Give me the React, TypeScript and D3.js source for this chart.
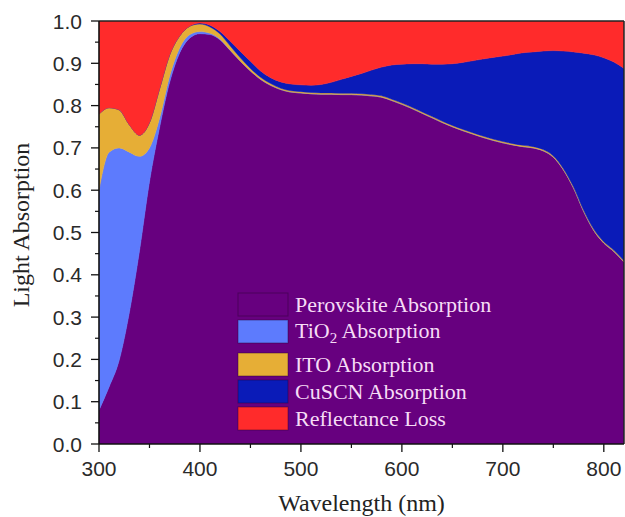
import React from 'react';
import * as d3 from 'd3';

const wavelength = [300,310,320,330,340,350,360,370,380,390,400,410,420,430,440,450,460,470,480,490,500,510,520,530,540,550,560,570,580,590,600,610,620,630,640,650,660,670,680,690,700,710,720,730,740,750,760,770,780,790,800,810,820];

const perovskite = [0.08,0.135,0.198,0.31,0.455,0.62,0.748,0.855,0.925,0.96,0.97,0.968,0.955,0.93,0.905,0.882,0.862,0.848,0.838,0.832,0.83,0.828,0.827,0.827,0.826,0.826,0.825,0.823,0.82,0.812,0.803,0.793,0.782,0.771,0.76,0.75,0.741,0.733,0.725,0.718,0.712,0.707,0.703,0.70,0.693,0.678,0.648,0.605,0.55,0.505,0.475,0.455,0.43];

const tio2 = [0.52,0.555,0.502,0.38,0.225,0.08,0.022,0.015,0.012,0.008,0.005,0.003,0.002,0.001,0,0,0,0,0,0,0,0,0,0,0,0,0,0,0,0,0,0,0,0,0,0,0,0,0,0,0,0,0,0,0,0,0,0,0,0,0,0,0];

const ito = [0.18,0.105,0.09,0.065,0.05,0.06,0.07,0.05,0.028,0.02,0.018,0.015,0.012,0.01,0.008,0.006,0.005,0.004,0.003,0.003,0.003,0.003,0.003,0.003,0.003,0.003,0.003,0.003,0.003,0.003,0.003,0.003,0.003,0.003,0.003,0.003,0.003,0.003,0.003,0.003,0.003,0.003,0.003,0.003,0.003,0.003,0.003,0.003,0.003,0.003,0.003,0.003,0.003];

const cuscn = [0,0,0,0,0,0,0,0,0,0,0.002,0.004,0.006,0.011,0.015,0.017,0.015,0.014,0.015,0.016,0.016,0.017,0.02,0.025,0.033,0.04,0.048,0.058,0.068,0.081,0.092,0.103,0.114,0.124,0.135,0.146,0.158,0.17,0.182,0.193,0.202,0.211,0.219,0.224,0.233,0.249,0.278,0.319,0.371,0.412,0.435,0.445,0.455];

const reflectance = [0.22,0.205,0.21,0.245,0.27,0.24,0.16,0.08,0.035,0.012,0.005,0.01,0.025,0.048,0.072,0.095,0.118,0.134,0.144,0.149,0.151,0.152,0.15,0.145,0.138,0.131,0.124,0.116,0.109,0.104,0.102,0.101,0.101,0.102,0.102,0.101,0.098,0.094,0.09,0.086,0.083,0.079,0.075,0.073,0.071,0.07,0.071,0.073,0.076,0.08,0.087,0.097,0.112];

const seriesKeys = ['perovskite', 'tio2', 'ito', 'cuscn', 'reflectance'];
const seriesColors = ['#67007f', '#5d7bfd', '#e6ae36', '#0a1bb8', '#ff2b2b'];

const xTicks = [300, 400, 500, 600, 700, 800];
const xMinorTicks = [350, 450, 550, 650, 750];
const yTicks = [0, 0.1, 0.2, 0.3, 0.4, 0.5, 0.6, 0.7, 0.8, 0.9, 1.0];
const yMinorTicks = [0.05, 0.15, 0.25, 0.35, 0.45, 0.55, 0.65, 0.75, 0.85, 0.95];

const legendRowTops = [293, 320, 353, 380, 407];

export default function App() {
  const W = 625, H = 517;
  const left = 99, right = 624, top = 21, bottom = 444;
  const x = d3.scaleLinear().domain([300, 820]).range([left, right]);
  const y = d3.scaleLinear().domain([0, 1]).range([bottom, top]);

  const rows = wavelength.map((w, i) => ({
    w,
    perovskite: perovskite[i],
    tio2: tio2[i],
    ito: ito[i],
    cuscn: cuscn[i],
    reflectance: reflectance[i],
  }));
  const stacked = d3.stack<any>().keys(seriesKeys)(rows);
  const area = d3.area<any>()
    .x((d: any) => x(d.data.w))
    .y0((d: any) => y(d[0]))
    .y1((d: any) => y(d[1]))
    .curve(d3.curveMonotoneX);

  const tickFont = "'Liberation Sans', Arial, sans-serif";
  const serif = "'Liberation Serif', 'Times New Roman', serif";
  const legendText = '#f6dcf6';

  return (
    <svg width={W} height={H} style={{ position: 'absolute', left: 0, top: 0, background: '#fff' }}>
      <defs>
        <clipPath id="plotclip">
          <rect x={left} y={top} width={right - left} height={bottom - top} />
        </clipPath>
      </defs>
      <g clipPath="url(#plotclip)">
        {stacked.map((s, i) => (
          <path key={seriesKeys[i]} d={area(s as any) || ''} fill={seriesColors[i]} stroke={seriesColors[i]} strokeWidth={0.5} />
        ))}
      </g>

      {/* frame */}
      <line x1={left} x2={right} y1={top} y2={top} stroke="#222" strokeWidth={1.5} />
      <line x1={right} x2={right} y1={top} y2={bottom} stroke="#222" strokeWidth={1.5} />
      <line x1={left} x2={left} y1={top} y2={bottom} stroke="#111" strokeWidth={1.6} />
      <line x1={left} x2={right} y1={bottom} y2={bottom} stroke="#111" strokeWidth={1.6} />

      {/* y ticks */}
      {yTicks.map(t => (
        <g key={'y' + t}>
          <line x1={left - 8} x2={left} y1={y(t)} y2={y(t)} stroke="#111" strokeWidth={1.3} />
          <text x={left - 17} y={y(t) + 7.5} textAnchor="end" fontFamily={tickFont} fontSize={21} fill="#2a2a2a">{t.toFixed(1)}</text>
        </g>
      ))}
      {yMinorTicks.map(t => (
        <line key={'ym' + t} x1={left - 4} x2={left} y1={y(t)} y2={y(t)} stroke="#111" strokeWidth={1.2} />
      ))}

      {/* x ticks */}
      {xTicks.map(t => (
        <g key={'x' + t}>
          <line x1={x(t)} x2={x(t)} y1={bottom} y2={bottom + 8} stroke="#111" strokeWidth={1.3} />
          <text x={x(t)} y={bottom + 32} textAnchor="middle" fontFamily={tickFont} fontSize={21} fill="#2a2a2a">{t}</text>
        </g>
      ))}
      {xMinorTicks.map(t => (
        <line key={'xm' + t} x1={x(t)} x2={x(t)} y1={bottom} y2={bottom + 4} stroke="#111" strokeWidth={1.2} />
      ))}

      {/* axis titles */}
      <text x={(left + right) / 2} y={511} textAnchor="middle" fontFamily={serif} fontSize={24} fill="#222">Wavelength (nm)</text>
      <text transform={`translate(29, 225) rotate(-90)`} textAnchor="middle" fontFamily={serif} fontSize={24} fill="#222">Light Absorption</text>

      {/* legend */}
      {seriesKeys.map((k, i) => {
        const ty = legendRowTops[i];
        return (
          <g key={'lg' + k}>
            <rect x={238} y={ty} width={50} height={23} fill={seriesColors[i]} stroke="rgba(40,0,50,0.45)" strokeWidth={1} />
            {k === 'tio2' ? (
              <text x={295} y={ty + 18} fontFamily={serif} fontSize={22} fill={legendText}>
                TiO<tspan fontSize={15} dy={5}>2</tspan><tspan dy={-5}> Absorption</tspan>
              </text>
            ) : (
              <text x={295} y={ty + 19} fontFamily={serif} fontSize={22} fill={legendText}>
                {k === 'perovskite' ? 'Perovskite Absorption' : k === 'ito' ? 'ITO Absorption' : k === 'cuscn' ? 'CuSCN Absorption' : 'Reflectance Loss'}
              </text>
            )}
          </g>
        );
      })}
    </svg>
  );
}
